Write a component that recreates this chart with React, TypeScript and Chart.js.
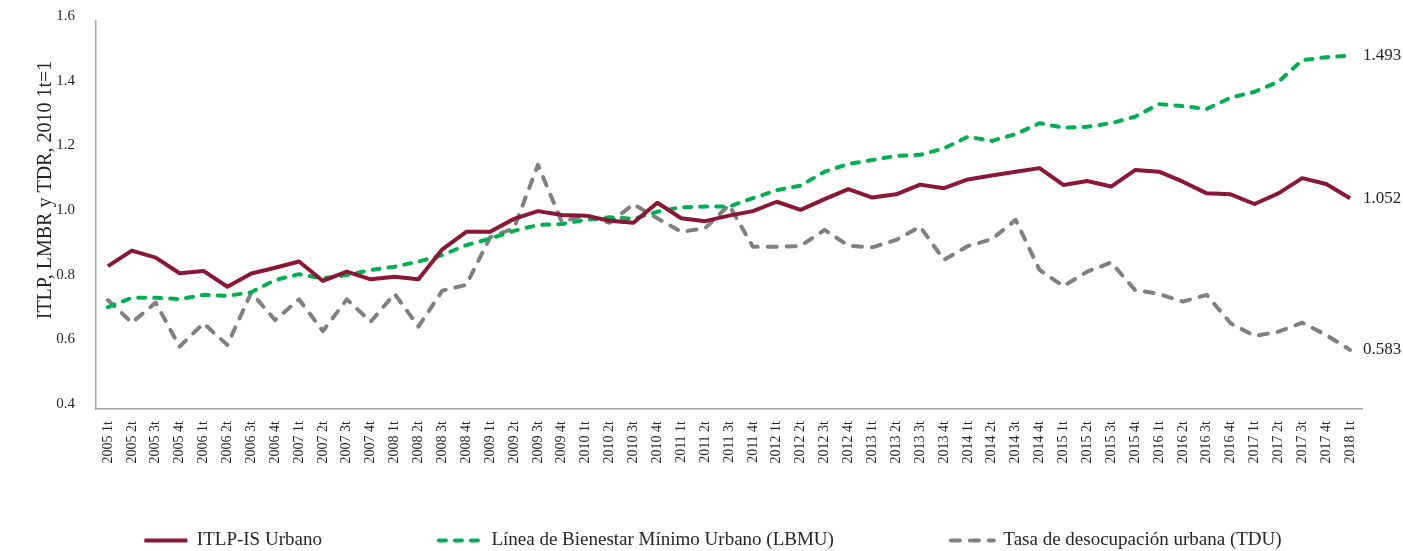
import React, { useEffect, useRef } from 'react';
import { Chart, registerables } from 'chart.js';

Chart.register(...registerables);

const categories: string[] = [
  '2005 1t', '2005 2t', '2005 3t', '2005 4t',
  '2006 1t', '2006 2t', '2006 3t', '2006 4t',
  '2007 1t', '2007 2t', '2007 3t', '2007 4t',
  '2008 1t', '2008 2t', '2008 3t', '2008 4t',
  '2009 1t', '2009 2t', '2009 3t', '2009 4t',
  '2010 1t', '2010 2t', '2010 3t', '2010 4t',
  '2011 1t', '2011 2t', '2011 3t', '2011 4t',
  '2012 1t', '2012 2t', '2012 3t', '2012 4t',
  '2013 1t', '2013 2t', '2013 3t', '2013 4t',
  '2014 1t', '2014 2t', '2014 3t', '2014 4t',
  '2015 1t', '2015 2t', '2015 3t', '2015 4t',
  '2016 1t', '2016 2t', '2016 3t', '2016 4t',
  '2017 1t', '2017 2t', '2017 3t', '2017 4t',
  '2018 1t',
];

const itlpUrbano: number[] = [
  0.842, 0.890, 0.868, 0.820, 0.827, 0.778, 0.819, 0.837, 0.856, 0.796, 0.825, 0.801, 0.809, 0.801, 0.894, 0.948, 0.948,
  0.988, 1.012, 1.000, 0.998, 0.982, 0.976, 1.038, 0.990, 0.981, 0.998, 1.012, 1.041, 1.016, 1.049, 1.080, 1.054, 1.064,
  1.094, 1.083, 1.110, 1.122, 1.134, 1.145, 1.093, 1.105, 1.088, 1.139, 1.134, 1.103, 1.067, 1.064, 1.034, 1.067, 1.114, 1.096, 1.052,
];

const lbmu: number[] = [
  0.715, 0.744, 0.744, 0.740, 0.753, 0.750, 0.761, 0.799, 0.817, 0.804, 0.814, 0.830, 0.840, 0.856, 0.876, 0.907, 0.927,
  0.951, 0.969, 0.972, 0.985, 0.993, 0.988, 1.010, 1.024, 1.026, 1.026, 1.052, 1.077, 1.091, 1.134, 1.158, 1.170, 1.183,
  1.186, 1.206, 1.242, 1.229, 1.250, 1.284, 1.270, 1.273, 1.284, 1.304, 1.343, 1.337, 1.328, 1.363, 1.381, 1.412, 1.479, 1.488, 1.493,
];

const tdu: number[] = [
  0.737, 0.667, 0.729, 0.593, 0.665, 0.598, 0.760, 0.675, 0.739, 0.641, 0.739, 0.670, 0.756, 0.655, 0.766, 0.784, 0.931,
  0.959, 1.155, 0.979, 1.000, 0.976, 1.033, 0.990, 0.948, 0.959, 1.031, 0.902, 0.902, 0.904, 0.954, 0.905, 0.900, 0.923,
  0.964, 0.861, 0.904, 0.925, 0.985, 0.830, 0.780, 0.825, 0.853, 0.768, 0.756, 0.732, 0.753, 0.665, 0.626, 0.639, 0.667, 0.629, 0.583,
];

const seriesLabels: string[] = [
  'ITLP-IS Urbano',
  'Línea de Bienestar Mínimo Urbano (LBMU)',
  'Tasa de desocupación urbana (TDU)',
];

const yTitle = 'ITLP, LMBR y TDR, 2010 1t=1';
const yMin = 0.4;
const yMax = 1.6;
const yStep = 0.2;

const FONT = '"Liberation Serif", "Times New Roman", serif';
const TEXT = '#262626';

const endLabels = {
  id: 'endLabels',
  afterDatasetsDraw(chart: any) {
    const ctx = chart.ctx;
    ctx.save();
    ctx.font = `17px ${FONT}`;
    ctx.fillStyle = TEXT;
    ctx.textAlign = 'left';
    ctx.textBaseline = 'middle';
    chart.data.datasets.forEach((ds: any, i: number) => {
      const meta = chart.getDatasetMeta(i);
      const pt = meta.data[meta.data.length - 1];
      const v = ds.data[ds.data.length - 1];
      if (pt) ctx.fillText(Number(v).toFixed(3), pt.x + 13, pt.y);
    });
    ctx.restore();
  },
};

export default function App() {
  const ref = useRef<HTMLCanvasElement | null>(null);

  useEffect(() => {
    if (!ref.current) return;
    const chart = new Chart(ref.current, {
      type: 'line',
      data: {
        labels: categories,
        datasets: [
          {
            label: seriesLabels[0],
            data: itlpUrbano,
            borderColor: '#8A1736',
            backgroundColor: '#8A1736',
            borderWidth: 4,
            borderJoinStyle: 'round',
            borderCapStyle: 'butt',
            pointRadius: 0,
            tension: 0,
            fill: false,
          },
          {
            label: seriesLabels[1],
            data: lbmu,
            borderColor: '#00B050',
            backgroundColor: '#00B050',
            borderWidth: 4,
            borderDash: [7, 9],
            borderJoinStyle: 'round',
            borderCapStyle: 'round',
            pointRadius: 0,
            tension: 0,
            fill: false,
          },
          {
            label: seriesLabels[2],
            data: tdu,
            borderColor: '#808080',
            backgroundColor: '#808080',
            borderWidth: 4,
            borderDash: [9, 10],
            borderJoinStyle: 'round',
            borderCapStyle: 'round',
            pointRadius: 0,
            tension: 0,
            fill: false,
          },
        ] as any,
      },
      options: {
        animation: false,
        responsive: false,
        devicePixelRatio: 1,
        layout: { padding: { left: 23, right: 0, top: 21, bottom: 0 } },
        plugins: {
          tooltip: { enabled: false },
          legend: {
            position: 'bottom',
            maxHeight: 80,
            labels: {
              usePointStyle: true,
              pointStyle: 'line',
              pointStyleWidth: 43,
              padding: 60,
              color: TEXT,
              font: { family: FONT, size: 19 },
              generateLabels: (ch: any) =>
                ch.data.datasets.map((ds: any, i: number, all: any[]) => ({
                  text: i < all.length - 1 ? ds.label + '\u2003\u2003\u2003' : ds.label,
                  fillStyle: ds.borderColor,
                  strokeStyle: ds.borderColor,
                  lineWidth: ds.borderWidth,
                  lineDash: ds.borderDash || [],
                  lineCap: ds.borderCapStyle,
                  lineJoin: 'round',
                  pointStyle: 'line',
                  hidden: false,
                  fontColor: TEXT,
                  datasetIndex: i,
                })),
            },
          } as any,
        },
        scales: {
          x: {
            type: 'category',
            offset: true,
            grid: { display: false, drawTicks: false },
            border: { display: true, color: '#A6A6A6', width: 1.5 },
            ticks: {
              autoSkip: false,
              minRotation: 90,
              maxRotation: 90,
              padding: 12,
              color: TEXT,
              font: { family: FONT, size: 14 },
            },
            afterFit: (scale: any) => {
              scale.height = 62;
            },
          },
          y: {
            min: yMin,
            max: yMax,
            grid: { display: false, drawTicks: true, tickLength: 21 },
            border: { display: true, color: '#A6A6A6', width: 1.5 },
            ticks: {
              stepSize: yStep,
              padding: 0,
              labelOffset: -5,
              color: TEXT,
              font: { family: FONT, size: 15 },
              callback: (v: any) => Number(v).toFixed(1),
            },
            title: {
              display: true,
              text: '          ' + yTitle,
              color: TEXT,
              font: { family: FONT, size: 20 },
              padding: { top: 11, bottom: 0 },
            },
            afterFit: (scale: any) => {
              scale.width = 73;
            },
          },
          y2: {
            position: 'right',
            display: true,
            grid: { display: false, drawTicks: false },
            border: { display: false },
            ticks: { display: false },
            afterFit: (scale: any) => {
              scale.width = 41;
            },
          },
        } as any,
      },
      plugins: [endLabels],
    });
    return () => chart.destroy();
  }, []);

  return (
    <div style={{ position: 'fixed', left: 0, top: 0, width: 1403, height: 551, background: '#fff' }}>
      <canvas ref={ref} width={1403} height={551} style={{ display: 'block', width: 1403, height: 551 }} />
    </div>
  );
}
